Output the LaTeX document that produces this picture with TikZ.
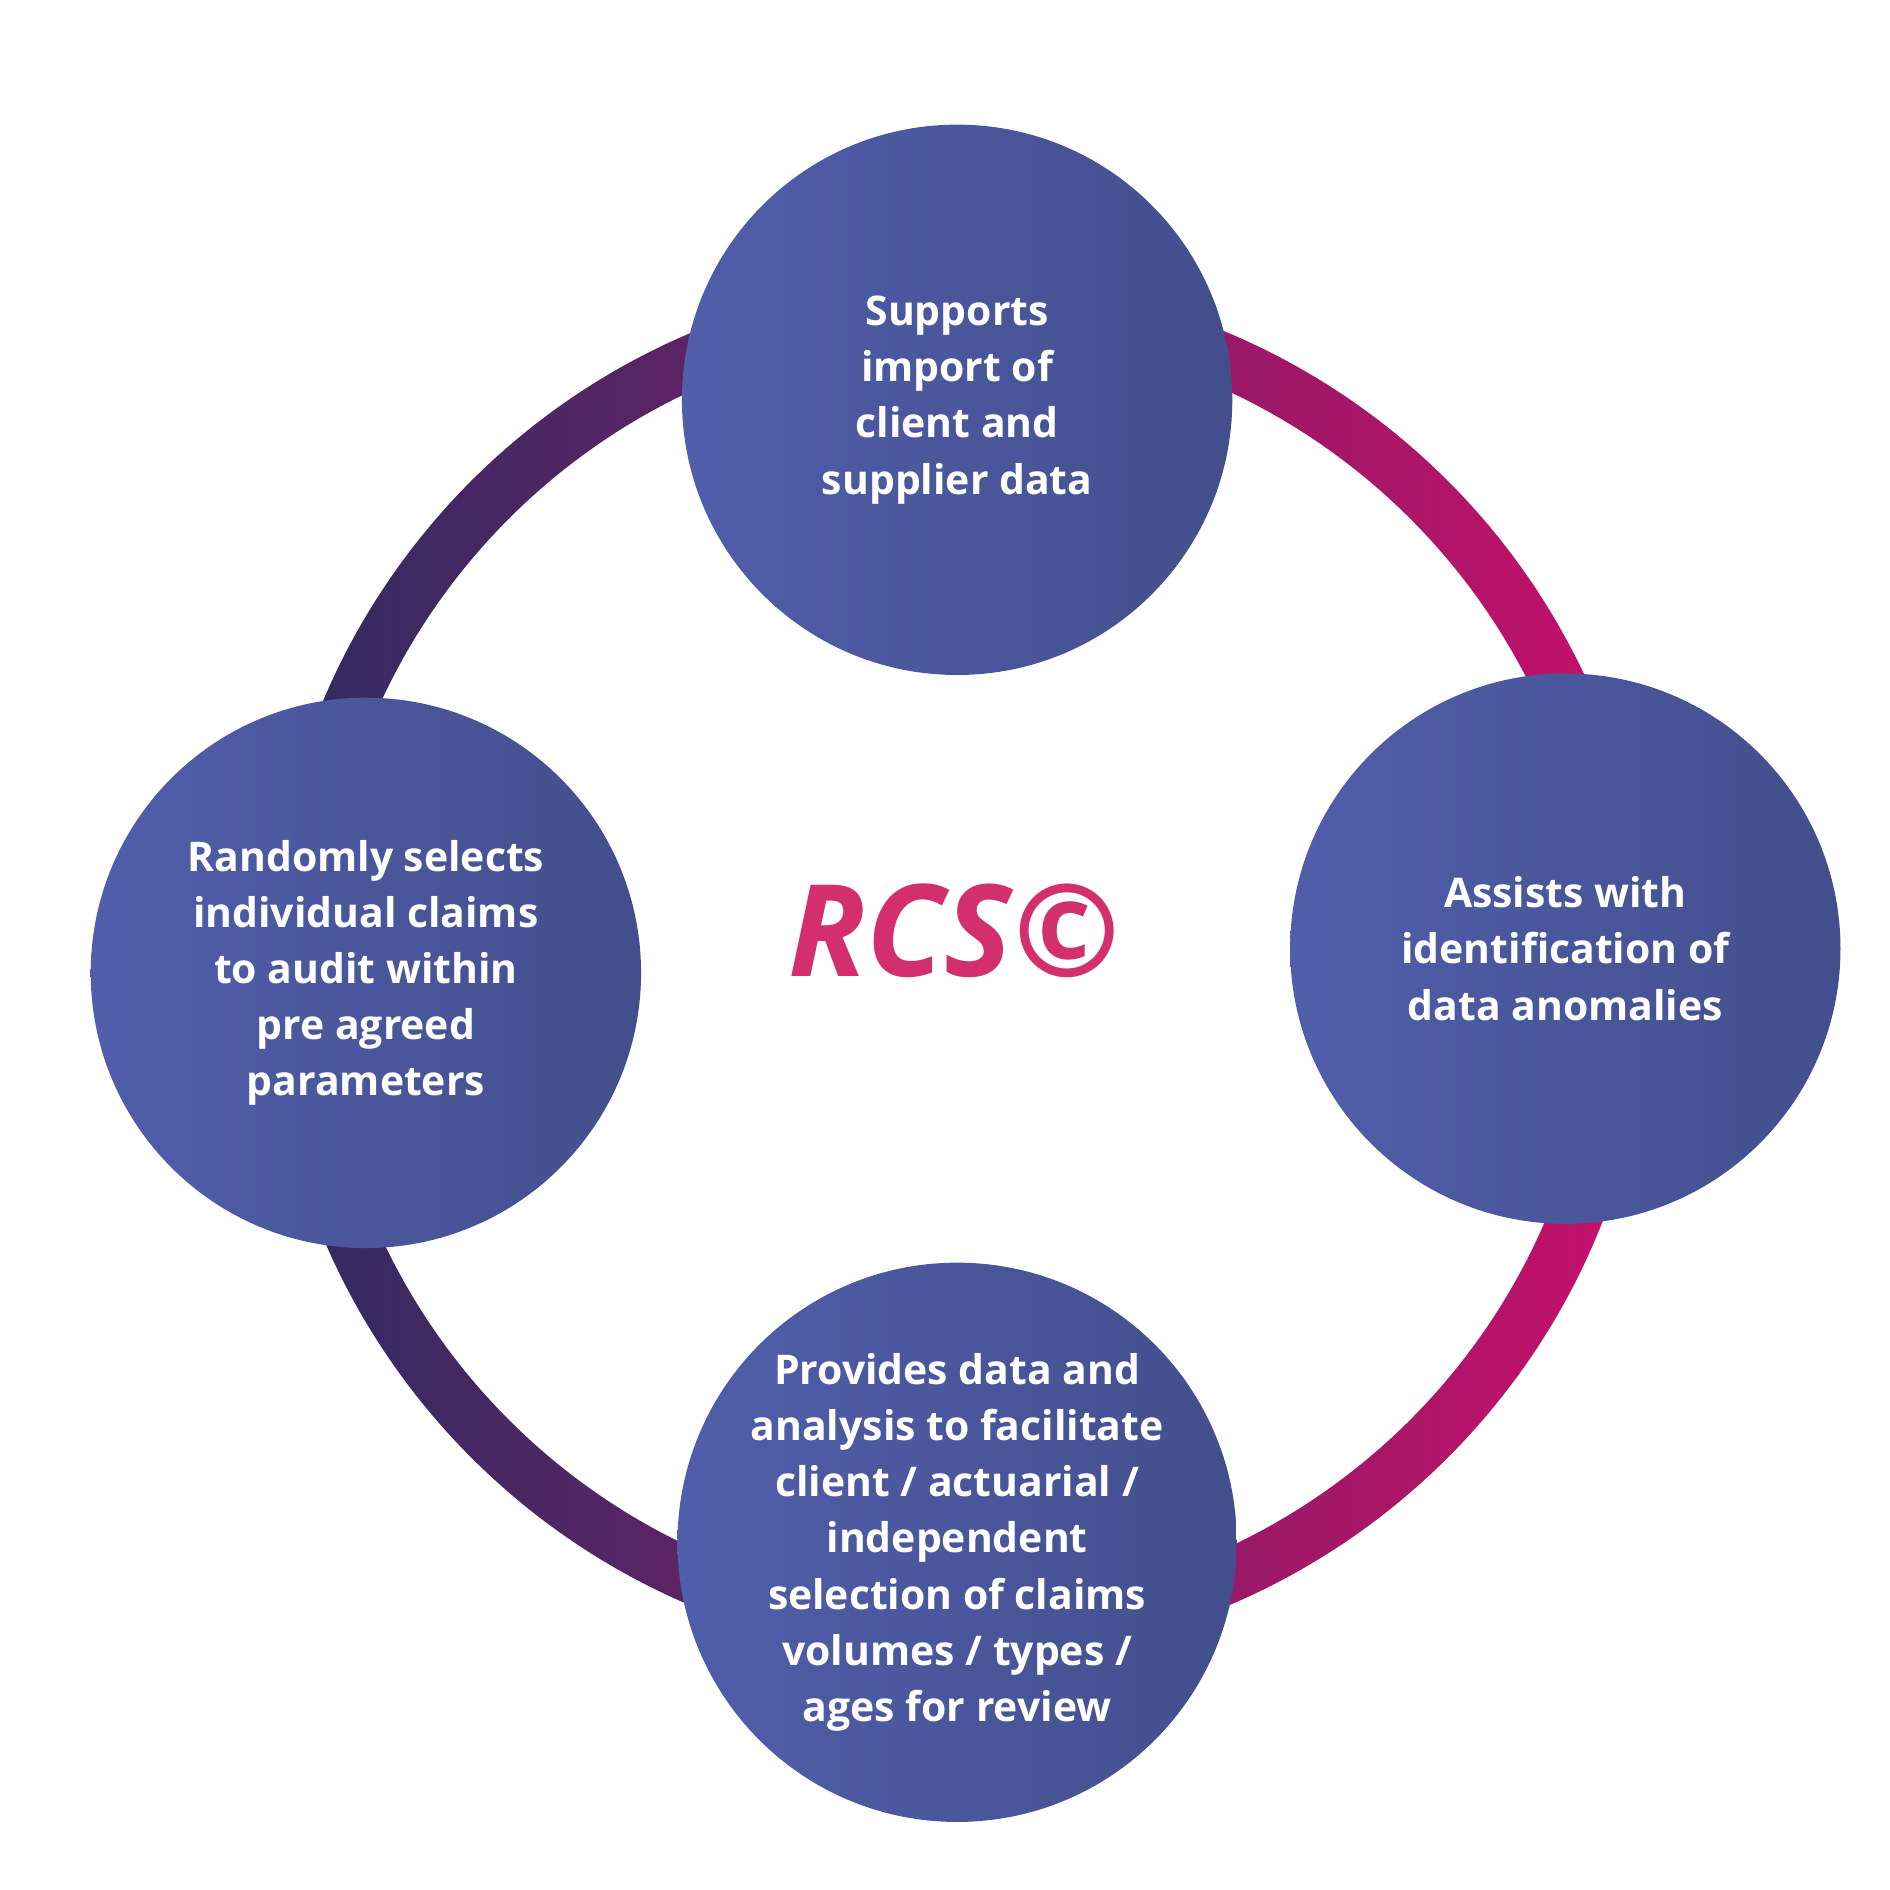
\documentclass[tikz,border=0pt]{standalone}
\usepackage{fontspec}
\setmainfont{Open Sans}
\usetikzlibrary{positioning}
\definecolor{ringdark}{HTML}{2E2C62}
\definecolor{ringpink}{HTML}{C8106A}
\definecolor{stepleft}{HTML}{505EAB}
\definecolor{stepright}{HTML}{434F8C}
\definecolor{rcspink}{HTML}{D32F6C}
\tikzset{
  stage/.style = {circle, minimum size=4.54cm, inner sep=0pt, align=center,
    text=white, font=\fontsize{9.6}{13.2}\selectfont\bfseries,
    left color=stepleft, right color=stepright, shading angle=90},
  title/.style = {text=rcspink, font=\fontsize{30}{34}\selectfont\bfseries\itshape}
}
\begin{document}
\begin{tikzpicture}[x=0.01cm, y=-0.01cm]
    \useasboundingbox (0,0) rectangle (1560,1560);
    \coordinate (hub) at (792,800);
    \shade[left color=ringdark, right color=ringpink, even odd rule]
        (hub) circle (570) (hub) circle (526);
    \node [stage] (import) at (790,330) {Supports\\import of\\client and\\supplier data};
    \node [stage] (anomaly) at (1292,783) {Assists with\\identification of\\data anomalies};
    \node [stage] (analysis) at (790,1273) {Provides data and\\analysis to facilitate\\client / actuarial /\\independent\\selection of claims\\volumes / types /\\ages for review};
    \node [stage] (random) at (302,803) {Randomly selects\\individual claims\\to audit within\\pre agreed\\parameters};
    \node [title] (rcs) at (787,768) {RCS©};
\end{tikzpicture}
\end{document}
